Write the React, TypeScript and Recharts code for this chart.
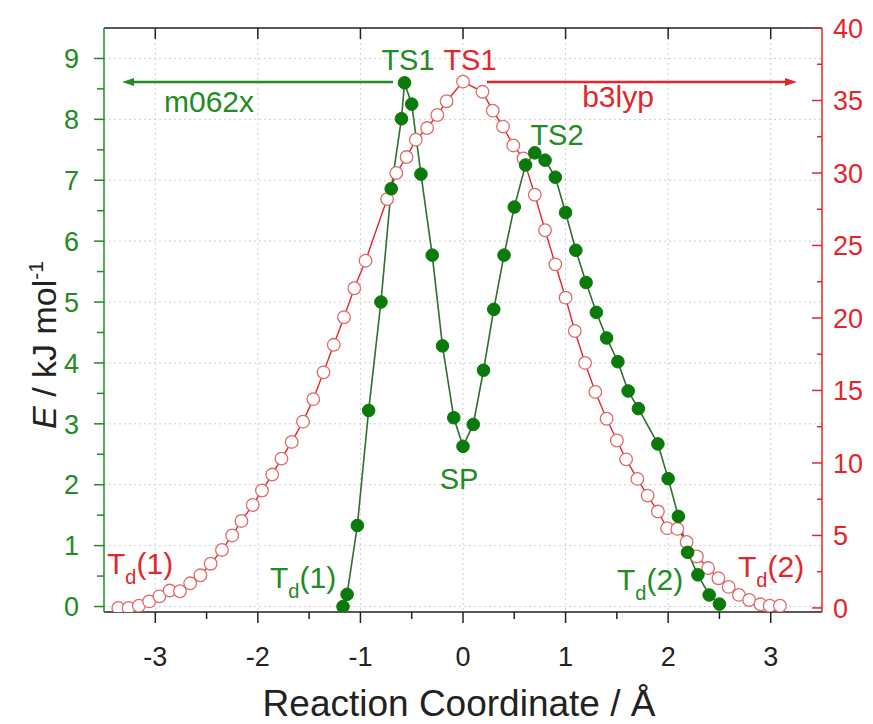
import React from 'react';
import { LineChart, Line, XAxis, YAxis, CartesianGrid } from 'recharts';

// m062x (left axis, kJ/mol)
const m062xX = [
  -1.17, -1.13, -1.03, -0.92, -0.8, -0.7, -0.6, -0.57, -0.5, -0.41, -0.3, -0.2, -0.09, 0.0, 0.1,
  0.2, 0.3, 0.4, 0.5, 0.61, 0.7, 0.8, 0.9, 1.0, 1.1, 1.2, 1.3, 1.4, 1.51, 1.61, 1.71, 1.9, 2.0,
  2.1, 2.19, 2.29, 2.4, 2.5,
];
const m062xE = [
  0.0, 0.2, 1.33, 3.22, 5.0, 6.86, 8.01, 8.6, 8.25, 7.1, 5.77, 4.28, 3.1, 2.63, 2.99, 3.88, 4.88,
  5.77, 6.56, 7.25, 7.45, 7.33, 7.05, 6.47, 5.85, 5.32, 4.83, 4.41, 4.02, 3.54, 3.25, 2.67, 2.1,
  1.48, 0.89, 0.52, 0.19, 0.04,
];

// b3lyp (right axis, kJ/mol)
const b3lypX = [
  -3.36, -3.26, -3.16, -3.06, -2.96, -2.86, -2.76, -2.66, -2.56, -2.46, -2.35, -2.25, -2.16, -2.05,
  -1.96, -1.86, -1.77, -1.67, -1.56, -1.46, -1.36, -1.26, -1.16, -1.06, -0.95, -0.74, -0.65, -0.55,
  -0.46, -0.35, -0.25, -0.16, 0.0, 0.19, 0.29, 0.39, 0.49, 0.59, 0.7, 0.8, 0.9, 1.0, 1.09, 1.19,
  1.29, 1.4, 1.5, 1.59, 1.7, 1.8, 1.9, 1.99, 2.09, 2.18, 2.28, 2.39, 2.49, 2.59, 2.69, 2.79, 2.9,
  2.99, 3.09,
];
const b3lypE = [
  0.0, 0.0, 0.15, 0.45, 0.8, 1.2, 1.15, 1.7, 2.25, 3.05, 4.0, 5.0, 6.0, 7.1, 8.1, 9.2, 10.3, 11.45,
  12.85, 14.4, 16.25, 18.15, 20.05, 22.05, 23.95, 28.2, 30.0, 31.1, 32.3, 33.1, 34.0, 34.95, 36.3,
  35.6, 34.3, 33.2, 31.9, 31.0, 28.5, 26.05, 23.7, 21.4, 19.1, 16.9, 14.9, 13.05, 11.55, 10.25, 8.9,
  7.75, 6.65, 5.5, 5.45, 4.55, 3.55, 2.75, 2.05, 1.45, 0.9, 0.55, 0.25, 0.15, 0.15,
];

const xTicks = [-3, -2.5, -2, -1.5, -1, -0.5, 0, 0.5, 1, 1.5, 2, 2.5, 3];
const xMajor = [-3, -2, -1, 0, 1, 2, 3];
const leftTicks = [0, 0.5, 1, 1.5, 2, 2.5, 3, 3.5, 4, 4.5, 5, 5.5, 6, 6.5, 7, 7.5, 8, 8.5, 9];
const leftMajor = [0, 1, 2, 3, 4, 5, 6, 7, 8, 9];
const rightTicks = [0, 2.5, 5, 7.5, 10, 12.5, 15, 17.5, 20, 22.5, 25, 27.5, 30, 32.5, 35, 37.5, 40];

const m062xData = m062xX.map((x, i) => ({ x, e: m062xE[i] }));
const b3lypData = b3lypX.map((x, i) => ({ x, e: b3lypE[i] }));

const FONT = '"Liberation Sans", Arial, sans-serif';
const GREEN = '#228b22';
const GREEN_DOT = '#0a7a0a';
const RED = '#e3262b';
const DARK = '#222';

const BottomTick = ({ x, y, payload }: any) => {
  const major = Number.isInteger(payload.value);
  return (
    <g>
      <line x1={x} y1={y} x2={x} y2={y + (major ? 11 : 7)} stroke={DARK} strokeWidth={1.5} />
      {major && (
        <text x={x} y={y + 54} textAnchor="middle" fontSize={27} fill={DARK} fontFamily={FONT}>
          {payload.value}
        </text>
      )}
    </g>
  );
};

const TopTick = ({ x, y }: any) => (
  <line x1={x} y1={y} x2={x} y2={y + 11} stroke={DARK} strokeWidth={1.5} />
);

const LeftTick = ({ x, y, payload }: any) => {
  const major = Number.isInteger(payload.value);
  return (
    <g>
      <line x1={x} y1={y} x2={x - (major ? 10 : 7)} y2={y} stroke={GREEN} strokeWidth={1.5} />
      {major && (
        <text x={x - 25} y={y} dy="0.36em" textAnchor="end" fontSize={27} fill={GREEN} fontFamily={FONT}>
          {payload.value}
        </text>
      )}
    </g>
  );
};

const RightTick = ({ x, y, payload }: any) => {
  const major = payload.value % 5 === 0;
  return (
    <g>
      <line x1={x} y1={y} x2={x - (major ? 10 : 5)} y2={y} stroke={RED} strokeWidth={1.5} />
      {major && (
        <text x={x + 11} y={y} dy="0.36em" textAnchor="start" fontSize={27} fill={RED} fontFamily={FONT}>
          {payload.value}
        </text>
      )}
    </g>
  );
};

const Td = ({ x, y, n, color }: any) => (
  <text x={x} y={y} fontSize={30} fill={color} fontFamily={FONT}>
    T
    <tspan fontSize={20} dy={10}>d</tspan>
    <tspan dy={-10}>({n})</tspan>
  </text>
);

const Annotations = () => (
  <svg
    width={873}
    height={724}
    style={{ position: 'absolute', left: 0, top: 0, pointerEvents: 'none' }}
  >
    <g fontFamily={FONT}>
      <text x={408} y={70} textAnchor="middle" fontSize={29} fill={GREEN}>TS1</text>
      <text x={470} y={70} textAnchor="middle" fontSize={29} fill={RED}>TS1</text>
      <line x1={393} y1={82} x2={130} y2={82} stroke={GREEN} strokeWidth={2.5} />
      <polygon points="122,82 134,78 134,86" fill={GREEN} />
      <text x={209} y={112} textAnchor="middle" fontSize={30} fill={GREEN}>m062x</text>
      <line x1={487} y1={82} x2={788} y2={82} stroke={RED} strokeWidth={2.5} />
      <polygon points="797,82 785,78 785,86" fill={RED} />
      <text x={618} y={107} textAnchor="middle" fontSize={30} fill={RED}>b3lyp</text>
      <text x={557} y={145} textAnchor="middle" fontSize={29} fill={GREEN}>TS2</text>
      <text x={459} y={489} textAnchor="middle" fontSize={29} fill={GREEN}>SP</text>
    </g>
    <Td x={107} y={574} n={1} color={RED} />
    <Td x={270} y={588} n={1} color={GREEN} />
    <Td x={617} y={590} n={2} color={GREEN} />
    <Td x={738} y={577} n={2} color={RED} />
    <text x={459} y={716} textAnchor="middle" fontSize={37} fill={DARK} fontFamily={FONT}>
      Reaction Coordinate / Å
    </text>
    <text
      x={56}
      y={345}
      textAnchor="middle"
      fontSize={34}
      fill={DARK}
      fontFamily={FONT}
      transform="rotate(-90 56 345)"
    >
      <tspan fontStyle="italic">E</tspan> / kJ mol
      <tspan fontSize={21} dy={-13}>-1</tspan>
    </text>
  </svg>
);

const GreenDot = ({ cx, cy }: any) => (
  <circle cx={cx} cy={cy} r={6.3} fill={GREEN_DOT} stroke={GREEN_DOT} />
);

const RedDot = ({ cx, cy }: any) => (
  <circle cx={cx} cy={cy} r={6.3} fill="#fff" stroke="#e06a6a" strokeWidth={1.3} />
);

export default function App() {
  return (
    <div style={{ position: 'absolute', left: 0, top: 0, width: 873, height: 724, background: '#fff' }}>
      <LineChart width={873} height={724} margin={{ top: 0, right: 0, bottom: 0, left: 0 }}>
        <CartesianGrid
          xAxisId="bottom"
          yAxisId="left"
          verticalValues={xMajor}
          horizontalValues={leftMajor}
          stroke="#cfcfcf"
          strokeDasharray="2 3"
        />
        <XAxis
          xAxisId="bottom"
          type="number"
          dataKey="x"
          domain={[-3.5, 3.5]}
          ticks={xTicks}
          allowDataOverflow
          height={112}
          tickSize={0}
          tickMargin={0}
          tickLine={false}
          tick={<BottomTick />}
          axisLine={{ stroke: DARK, strokeWidth: 1.5 }}
          interval={0}
        />
        <XAxis
          xAxisId="top"
          orientation="top"
          type="number"
          dataKey="x"
          domain={[-3.5, 3.5]}
          ticks={xMajor}
          allowDataOverflow
          height={28}
          tickSize={0}
          tickMargin={0}
          tickLine={false}
          tick={<TopTick />}
          axisLine={{ stroke: DARK, strokeWidth: 1.5 }}
          interval={0}
        />
        <YAxis
          yAxisId="left"
          orientation="left"
          type="number"
          domain={[-0.09, 9.5]}
          ticks={leftTicks}
          allowDataOverflow
          width={104}
          tickSize={0}
          tickMargin={0}
          tickLine={false}
          tick={<LeftTick />}
          axisLine={{ stroke: GREEN, strokeWidth: 1.5 }}
          interval={0}
        />
        <YAxis
          yAxisId="right"
          orientation="right"
          type="number"
          domain={[-0.28, 40]}
          ticks={rightTicks}
          allowDataOverflow
          width={51}
          tickSize={0}
          tickMargin={0}
          tickLine={false}
          tick={<RightTick />}
          axisLine={{ stroke: RED, strokeWidth: 1.5 }}
          interval={0}
        />
        <Line
          data={b3lypData}
          xAxisId="bottom"
          yAxisId="right"
          type="linear"
          dataKey="e"
          stroke={RED}
          strokeWidth={1.4}
          dot={<RedDot />}
          activeDot={false}
          isAnimationActive={false}
        />
        <Line
          data={m062xData}
          xAxisId="bottom"
          yAxisId="left"
          type="linear"
          dataKey="e"
          stroke="#2f6f2f"
          strokeWidth={1.6}
          dot={<GreenDot />}
          activeDot={false}
          isAnimationActive={false}
        />
      </LineChart>
      <Annotations />
    </div>
  );
}
